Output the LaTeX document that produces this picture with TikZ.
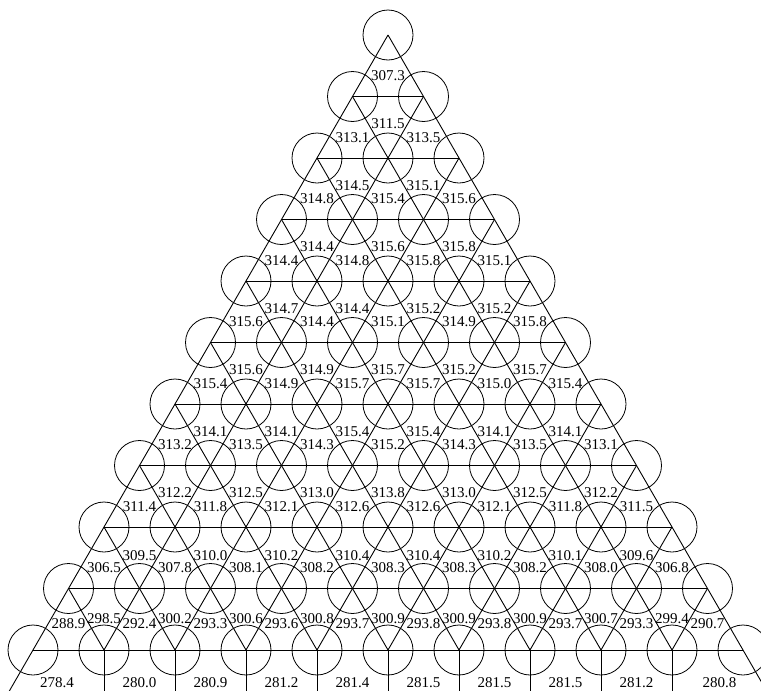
\documentclass[tikz,border=0pt]{standalone}
\usepackage{fontspec}
\setmainfont{Liberation Serif}
\tikzset{
  ring/.style={circle, draw, minimum size=50pt, inner sep=0pt, line width=0.8pt},
  edge/.style={line width=0.9pt},
  lab/.style={inner sep=0pt, font=\fontsize{15}{18}\selectfont},
}
% #1 band, #2 up offset, #3 down offset, #4 up list, #5 down list
\newcommand\bandlabels[5]{%
  \foreach \v [count=\i] in {#4} {
    \pgfmathsetmacro\xx{388+(\i-(#1+1)/2)*71}
    \pgfmathsetmacro\yy{35+(#1-1)*61.5+#2}
    \node[lab] (u-#1-\i) at (\xx,\yy) {\v};
  }
  \foreach \v [count=\i] in {#5} {
    \pgfmathsetmacro\xx{388+(\i+0.5-(#1+1)/2)*71}
    \pgfmathsetmacro\yy{35+(#1-1)*61.5+#3}
    \node[lab] (d-#1-\i) at (\xx,\yy) {\v};
  }
}
\begin{document}
\begin{tikzpicture}[x=1pt,y=-1pt]
\useasboundingbox (0,0) rectangle (761,691);
\clip (0,0) rectangle (761,691);
% lattice nodes
\foreach \r in {1,...,11} {
  \foreach \i in {1,...,\r} {
    \pgfmathsetmacro\xx{388+(\i-(\r+1)/2)*71}
    \pgfmathsetmacro\yy{35+(\r-1)*61.5}
    \node[ring] (n-\r-\i) at (\xx,\yy) {};
  }
}
% lines parallel to left edge
\foreach \i in {1,...,10} \draw[edge] (n-\i-\i.center) -- (n-11-\i.center);
% lines parallel to right edge
\foreach \j in {0,...,9} {
  \pgfmathtruncatemacro\a{\j+1}
  \pgfmathtruncatemacro\b{11-\j}
  \draw[edge] (n-\a-1.center) -- (n-11-\b.center);
}
% horizontal lines
\foreach \r in {2,...,11} \draw[edge] (n-\r-1.center) -- (n-\r-\r.center);
% extensions below the bottom row
\coordinate (le) at (-2.5,711.5);
\coordinate (re) at (778.5,711.5);
\draw[edge] (n-11-1.center) -- (le);
\draw[edge] (n-11-11.center) -- (re);
\foreach \i in {2,...,10} {
  \path (n-11-\i.center) ++(0,60) coordinate (v-\i);
  \draw[edge] (n-11-\i.center) -- (v-\i);
}
% labels
\node[lab] (u-1-1) at (388,76) {307.3};
\bandlabels{2}{41}{27.5}{313.1,313.5}{311.5}
\bandlabels{3}{41}{27.5}{314.8,315.4,315.6}{314.5,315.1}
\bandlabels{4}{41}{27.5}{314.4,314.8,315.8,315.1}{314.4,315.6,315.8}
\bandlabels{5}{41}{27.5}{315.6,314.4,315.1,314.9,315.8}{314.7,314.4,315.2,315.2}
\bandlabels{6}{41}{27.5}{315.4,314.9,315.7,315.7,315.0,315.4}{315.6,314.9,315.7,315.2,315.7}
\bandlabels{7}{41}{27.5}{313.2,313.5,314.3,315.2,314.3,313.5,313.1}{314.1,314.1,315.4,315.4,314.1,314.1}
\bandlabels{8}{41}{27.5}{311.4,311.8,312.1,312.6,312.6,312.1,311.8,311.5}{312.2,312.5,313.0,313.8,313.0,312.5,312.2}
\bandlabels{9}{41}{28.5}{306.5,307.8,308.1,308.2,308.3,308.3,308.2,308.0,306.8}{309.5,310.0,310.2,310.4,310.4,310.2,310.1,309.6}
\bandlabels{10}{35}{30}{288.9,292.4,293.3,293.6,293.7,293.8,293.8,293.7,293.3,290.7}{298.5,300.2,300.6,300.8,300.9,300.9,300.9,300.7,299.4}
% bottom labels
\node[lab] (bt-1) at (57,683) {278.4};
\foreach \v [count=\k] in {280.0,280.9,281.2,281.4,281.5,281.5,281.5,281.2} {
  \pgfmathsetmacro\xx{139.5+(\k-1)*71}
  \node[lab] (bt-m\k) at (\xx,683) {\v};
}
\node[lab] (bt-10) at (719.5,683) {280.8};
\end{tikzpicture}
\end{document}
